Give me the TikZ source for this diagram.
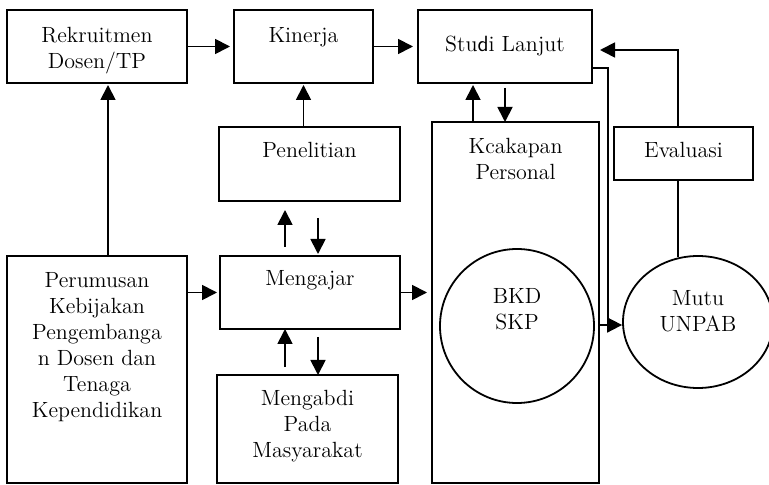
\documentclass[tikz,border=0pt]{standalone}
\usetikzlibrary{arrows.meta,shapes.geometric}

\tikzset{
  kotak/.style={draw, anchor=north west, inner sep=0pt, outer sep=0pt},
  teks/.style={align=center, anchor=north, inner sep=0pt, font=\fontsize{11}{13}\selectfont},
  panah/.style={-{Triangle[length=7.5pt,width=7.5pt]}}
}

\begin{document}
\begin{tikzpicture}[x=0.5pt,y=-0.5pt,line width=0.9pt]
  \useasboundingbox (0,0) rectangle (769,485);

  % Kotak
  \node[kotak,minimum width=90pt,minimum height=36.5pt] (rekrut) at (7,10) {};
  \node[kotak,minimum width=69.5pt,minimum height=36.5pt] (kinerja) at (234,10) {};
  \node[kotak,minimum width=87pt,minimum height=36.5pt] (studi) at (418,10) {};
  \node[kotak,minimum width=90.5pt,minimum height=37pt] (penelitian) at (219,127) {};
  \node[kotak,minimum width=69.5pt,minimum height=26.5pt] (evaluasi) at (614,127) {};
  \node[kotak,minimum width=83.5pt,minimum height=180.5pt] (kcakapan) at (432,122) {};
  \node[kotak,minimum width=90pt,minimum height=113.5pt] (perumusan) at (7,256) {};
  \node[kotak,minimum width=90pt,minimum height=36.5pt] (mengajar) at (220,256) {};
  \node[kotak,minimum width=90.5pt,minimum height=54pt] (mengabdi) at (217,375) {};

  % Lingkaran
  \node[draw,circle,minimum size=77pt,inner sep=0pt] (bkd) at (517,326) {};
  \node[draw,ellipse,minimum width=75pt,minimum height=66pt,inner sep=0pt] (mutu) at (698,322) {};

  % Teks
  \node[teks] (tRekrut) at ([yshift=-8.4pt]rekrut.north) {Rekruitmen\\Dosen/TP};
  \node[teks] (tKinerja) at ([yshift=-8.4pt]kinerja.north) {Kinerja};
  \node[teks] (tStudi) at ([yshift=-12.4pt]studi.north) {Stu{\sffamily d}i Lanjut};
  \node[teks] (tPenelitian) at ([yshift=-7.4pt]penelitian.north) {Penelitian};
  \node[teks] (tEvaluasi) at ([yshift=-7.4pt]evaluasi.north) {Evaluasi};
  \node[teks] (tKcakapan) at ([yshift=-7.9pt]kcakapan.north) {Kcakapan\\Personal};
  \node[teks] (tPerumusan) at ([yshift=-7.9pt]perumusan.north) {Perumusan\\Kebijakan\\Pengembanga\\n Dosen dan\\Tenaga\\Kependidikan};
  \node[teks] (tMengajar) at ([yshift=-6.9pt]mengajar.north) {Mengajar};
  \node[teks] (tMengabdi) at ([yshift=-7.4pt]mengabdi.north) {Mengabdi\\Pada\\Masyarakat};
  \node[teks] (tBkd) at ([yshift=19.1pt]bkd.center) {BKD\\SKP};
  \node[teks] (tMutu) at ([yshift=16.1pt]mutu.center) {Mutu\\UNPAB};

  % Panah
  \draw[panah] (rekrut.east) -- ([xshift=-2pt]kinerja.west);
  \draw[panah] (kinerja.east) -- ([xshift=-2.5pt]studi.west);
  \draw[panah] (penelitian.north -| kinerja.south) -- ([yshift=-1pt]kinerja.south);
  \draw[panah] ([xshift=-12.5pt,yshift=4.5pt]mengajar.north) -- ([xshift=-12.25pt,yshift=-4.5pt]penelitian.south);
  \draw[panah] ([xshift=4.25pt,yshift=-8.5pt]penelitian.south) -- ([xshift=4pt,yshift=1pt]mengajar.north);
  \draw[panah] ([xshift=-11.25pt,yshift=4pt]mengabdi.north) -- ([xshift=-12.5pt]mengajar.south);
  \draw[panah] ([xshift=4pt,yshift=-4pt]mengajar.south) -- ([xshift=5.25pt]mengabdi.north);
  \draw[panah] ([xshift=5.5pt]perumusan.north) -- ([xshift=5.5pt,yshift=-1pt]rekrut.south);
  \draw[panah] (perumusan.east |- mengajar.west) -- ([xshift=-1.5pt]mengajar.west);
  \draw[panah] (mengajar.east) -- ([xshift=-2.5pt]mengajar.east -| kcakapan.west);
  \draw[panah] ([xshift=-21.25pt]kcakapan.north) -- ([xshift=-21.25pt,yshift=-1pt]kcakapan.north |- studi.south);
  \draw[panah] ([yshift=-2.5pt]studi.south) -- (studi.south |- kcakapan.north);
  \draw[panah] ([xshift=-2.75pt]evaluasi.north) |- ([xshift=4pt,yshift=-1.75pt]studi.east);

  % Ke mutu
  \coordinate (belok) at (608,325);
  \draw ([yshift=-10.75pt]studi.east) -| (belok);
  \draw[panah] (kcakapan.east |- belok) -- (mutu.west |- belok);
  \draw ([xshift=-2.75pt]evaluasi.south) -- ([xshift=-2.75pt,yshift=-1pt]evaluasi.south |- mutu.north);
\end{tikzpicture}
\end{document}
